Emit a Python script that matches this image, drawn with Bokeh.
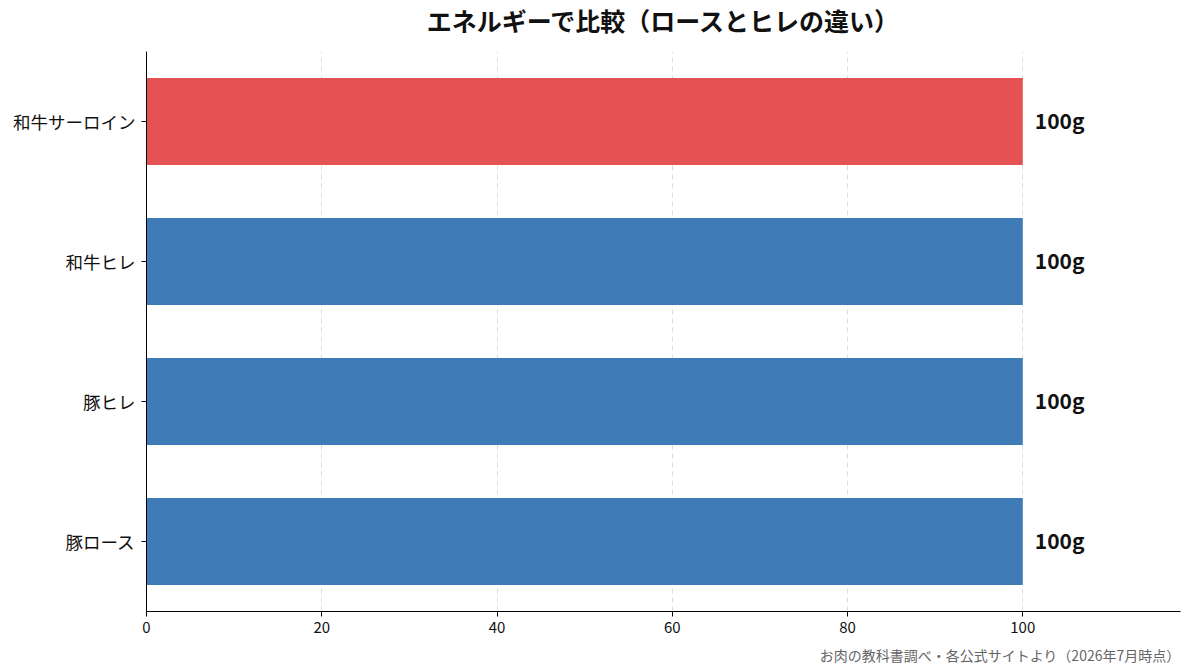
from bokeh.plotting import figure
from bokeh.layouts import column
from bokeh.models import ColumnDataSource, Range1d, Title, SingleIntervalTicker, Div
from bokeh.core.properties import value
from bokeh.embed import file_html
from bokeh.resources import INLINE

# Data
categories = ["豚ロース", "豚ヒレ", "和牛ヒレ", "和牛サーロイン"]
energy = [100, 100, 100, 100]
bar_colors = ["#3f7bb6", "#3f7bb6", "#3f7bb6", "#e55254"]
value_labels = [f"{v}g" for v in energy]

FONT = "Noto Sans CJK JP"
X_MAX = 118
WIDTH = 1193
TITLE_H = 40
BORDER_LEFT = 146
BORDER_RIGHT = 13

src = ColumnDataSource(dict(cat=categories, val=energy, color=bar_colors, label=value_labels))

# Heading row, centred over the plotting area
title_div = Div(
    text="エネルギーで比較（ロースとヒレの違い）",
    width=WIDTH, height=TITLE_H, margin=0,
    styles={
        "font-family": f"'{FONT}', sans-serif",
        "font-size": "25px",
        "font-weight": "bold",
        "color": "#111111",
        "line-height": f"{TITLE_H}px",
        "text-align": "center",
        "box-sizing": "border-box",
        "padding-left": f"{BORDER_LEFT - BORDER_RIGHT}px",
        "width": f"{WIDTH}px",
    },
)

p = figure(
    width=WIDTH, height=672 - TITLE_H,
    y_range=categories,
    x_range=Range1d(0, X_MAX),
    output_backend="svg",
    toolbar_location=None,
    min_border_left=BORDER_LEFT, min_border_right=BORDER_RIGHT,
    min_border_top=11, min_border_bottom=10,
    outline_line_color=None,
    margin=0,
)

p.hbar(y="cat", right="val", left=0, height=0.62, color="color", source=src, line_color=None)

p.text(x="val", y="cat", text="label", source=src, x_offset=12, y_offset=-2,
       text_baseline="middle", text_align="left",
       text_font=value(FONT), text_font_size="21px", text_font_style="bold",
       text_color="#111111")

# Axes
p.xaxis.ticker = SingleIntervalTicker(interval=20)
p.xaxis.bounds = (0, X_MAX)
for ax in (p.xaxis[0], p.yaxis[0]):
    ax.axis_line_color = "black"
    ax.axis_line_width = 1
    ax.major_tick_line_color = "black"
    ax.major_tick_out = 5
    ax.major_tick_in = 0
    ax.minor_tick_line_color = None
    ax.major_label_text_font = FONT
    ax.major_label_text_color = "#111111"
p.xaxis.major_label_text_font_size = "15px"
p.xaxis.major_label_standoff = 5
p.yaxis.major_label_text_font_size = "17.5px"
p.yaxis.major_label_standoff = 6

p.xgrid.grid_line_color = "#dddddd"
p.xgrid.grid_line_dash = "5 4"
p.xgrid.grid_line_width = 1
p.ygrid.grid_line_color = None

p.add_layout(Title(text="お肉の教科書調べ・各公式サイトより（2026年7月時点）", align="right",
                   text_font=FONT, text_font_size="14px", text_font_style="normal",
                   text_color="#666666", standoff=15), "below")

layout = column(title_div, p, spacing=0, margin=0)

open("out.html", "w").write(file_html(layout, INLINE))
